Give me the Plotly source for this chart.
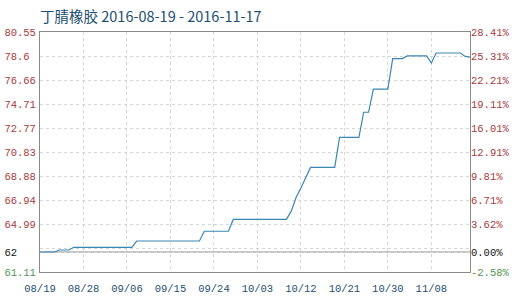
import plotly.graph_objects as go

# ---- data ----
TITLE = "丁腈橡胶 2016-08-19 - 2016-11-17"
BASE = 62.73

dates = ["2016-08-19", "2016-08-22", "2016-08-23", "2016-08-25", "2016-08-26",
         "2016-09-07", "2016-09-08", "2016-09-21", "2016-09-22", "2016-09-27",
         "2016-09-28", "2016-10-09", "2016-10-10", "2016-10-11", "2016-10-12",
         "2016-10-13", "2016-10-14", "2016-10-19", "2016-10-20", "2016-10-24",
         "2016-10-25", "2016-10-26", "2016-10-27", "2016-10-30", "2016-10-31",
         "2016-11-02", "2016-11-03", "2016-11-07", "2016-11-08", "2016-11-09",
         "2016-11-14", "2016-11-15", "2016-11-16"]
prices = [62.73, 62.73, 62.89, 62.89, 63.11,
          63.11, 63.62, 63.62, 64.41, 64.41,
          65.37, 65.37, 66.04, 67.14, 67.91,
          68.76, 69.58, 69.58, 72.01, 72.01,
          74.05, 74.05, 75.92, 75.92, 78.40,
          78.40, 78.61, 78.61, 78.04, 78.85,
          78.85, 78.57, 78.52]

y_tick_vals = [61.11, 62.73, 63.05, 64.99, 66.94, 68.88, 70.83, 72.77, 74.71, 76.66, 78.60, 80.55]
y_left_labels = ["61.11", "62", "", "64.99", "66.94", "68.88", "70.83", "72.77", "74.71", "76.66", "78.6", "80.55"]
y_right_labels = ["-2.58%", "0.00%", "", "3.62%", "6.71%", "9.81%", "12.91%", "16.01%", "19.11%",
                  "22.21%", "25.31%", "28.41%"]

x_tick_vals = ["2016-08-19", "2016-08-28", "2016-09-06", "2016-09-15", "2016-09-24",
               "2016-10-03", "2016-10-12", "2016-10-21", "2016-10-30", "2016-11-08"]
x_tick_labels = ["08/19", "08/28", "09/06", "09/15", "09/24", "10/03", "10/12", "10/21", "10/30", "11/08"]

X_RANGE = ["2016-08-19", "2016-11-16"]
Y_RANGE = [61.11, 80.55]

# ---- styling ----
RED = "#a83a3a"
GREEN = "#4f9650"
BLACK = "#111111"
BLUE_TXT = "#1d4f72"
MONO = "Liberation Mono, DejaVu Sans Mono, monospace"


def colored(txt, base_val, v, pad_to=None):
    if txt == "":
        return ""
    if pad_to:
        txt = txt + "\u00a0" * (pad_to - len(txt))
    if abs(v - base_val) < 1e-6:
        c = BLACK
    elif v < base_val:
        c = GREEN
    else:
        c = RED
    return f"<span style='color:{c}'>{txt}</span>"


left_text = [colored(t, BASE, v, pad_to=5) for t, v in zip(y_left_labels, y_tick_vals)]
right_text = [colored(t, BASE, v) for t, v in zip(y_right_labels, y_tick_vals)]

fig = go.Figure()
fig.add_trace(go.Scatter(x=dates, y=prices, mode="lines",
                         line=dict(color="#3a87b3", width=1.2), yaxis="y",
                         showlegend=False, hoverinfo="x+y"))
fig.add_trace(go.Scatter(x=dates, y=prices, mode="lines",
                         line=dict(color="rgba(0,0,0,0)", width=0), yaxis="y2",
                         showlegend=False, hoverinfo="skip"))

fig.add_shape(type="line", xref="paper", x0=0, x1=1, yref="y", y0=BASE, y1=BASE,
              line=dict(color="#8a8a8a", width=1), layer="below")

fig.update_layout(
    width=526, height=302,
    margin=dict(l=40, r=56, t=32, b=30),
    paper_bgcolor="white", plot_bgcolor="white",
    title=dict(text=TITLE, x=40 / 526, xanchor="left", xref="container",
               y=1 - 16.5 / 302, yanchor="middle", yref="container",
               font=dict(family="Noto Sans CJK SC", size=14.5, color=BLUE_TXT)),
    xaxis=dict(type="date", range=X_RANGE, tickvals=x_tick_vals, ticktext=x_tick_labels,
               showgrid=True, gridcolor="#d6d6d6", griddash="dot", gridwidth=1,
               showline=True, linecolor="#8a8a8a", linewidth=1, mirror=True,
               ticks="", ticklabelstandoff=6, automargin=False,
               tickfont=dict(family=MONO, size=10.5, color=BLUE_TXT),
               zeroline=False),
    yaxis=dict(range=Y_RANGE, tickvals=y_tick_vals, ticktext=left_text,
               showgrid=True, gridcolor="#d6d6d6", griddash="dot", gridwidth=1,
               showline=True, linecolor="#8a8a8a", linewidth=1, mirror=True,
               ticks="", ticklabelstandoff=1, automargin=False,
               tickfont=dict(family=MONO, size=10.5, color=RED),
               zeroline=False),
    yaxis2=dict(range=Y_RANGE, overlaying="y", side="right", tickvals=y_tick_vals,
                ticktext=right_text, showgrid=False, showline=False, ticks="",
                automargin=False,
                tickfont=dict(family=MONO, size=10.5, color=RED), zeroline=False),
)

fig.write_html("out.html")
